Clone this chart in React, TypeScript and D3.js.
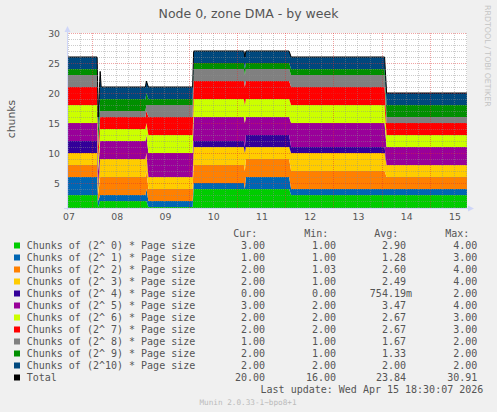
import React from 'react';
import * as d3 from 'd3';

// ---- data ----
const times = [
  '2026-04-07T11:30:00', '2026-04-08T02:30:00', '2026-04-08T03:00:00', '2026-04-08T04:00:00',
  '2026-04-08T04:30:00', '2026-04-09T02:30:00', '2026-04-09T03:00:00', '2026-04-09T04:00:00',
  '2026-04-10T02:00:00', '2026-04-10T02:30:00', '2026-04-11T03:30:00', '2026-04-11T04:00:00',
  '2026-04-11T04:30:00', '2026-04-12T02:00:00', '2026-04-12T03:00:00', '2026-04-14T01:30:00',
  '2026-04-14T02:30:00', '2026-04-15T18:30:07',
];
const order0 = [3, 3, 1, 2, 2, 2, 2, 1, 1, 4, 4, 4, 4, 4, 3, 3, 3, 3];
const order1 = [3, 3, 1, 1, 1, 1, 2, 1, 1, 1, 1, 0, 2, 2, 1, 1, 1, 1];
const order2 = [2, 2, 1, 3, 3, 3, 3, 2, 2, 3, 3, 3, 3, 3, 3, 3, 2, 2];
const order3 = [2, 2, 1, 3, 3, 3, 3, 2, 2, 3, 3, 3, 2, 2, 3, 3, 2, 2];
const order4 = [2, 2, 1, 0, 0, 0, 0, 0, 0, 1, 1, 1, 2, 2, 1, 1, 0, 0];
const order5 = [3, 3, 2, 3, 3, 3, 3, 4, 4, 4, 4, 4, 3, 3, 4, 4, 3, 3];
const order6 = [3, 3, 2, 2, 2, 2, 2, 3, 3, 3, 3, 3, 3, 3, 3, 3, 2, 2];
const order7 = [3, 3, 2, 2, 2, 2, 2, 3, 3, 3, 3, 3, 3, 3, 3, 3, 2, 2];
const order8 = [2, 2, 1, 1, 1, 1, 1, 2, 2, 2, 2, 2, 2, 2, 2, 2, 1, 1];
const order9 = [1, 1, 2, 2, 2, 2, 2, 1, 1, 1, 1, 1, 1, 1, 1, 1, 2, 2];
const order10 = [2, 2, 2, 4.6, 2, 2, 2, 2, 2, 2, 2, 2, 2, 2, 2, 2, 2, 2];

const seriesValues = [order0, order1, order2, order3, order4, order5, order6, order7, order8, order9, order10];
const seriesNames = [
  'Chunks of (2^ 0) * Page size', 'Chunks of (2^ 1) * Page size', 'Chunks of (2^ 2) * Page size',
  'Chunks of (2^ 3) * Page size', 'Chunks of (2^ 4) * Page size', 'Chunks of (2^ 5) * Page size',
  'Chunks of (2^ 6) * Page size', 'Chunks of (2^ 7) * Page size', 'Chunks of (2^ 8) * Page size',
  'Chunks of (2^ 9) * Page size', 'Chunks of (2^10) * Page size', 'Total',
];
const seriesColors = [
  '#00CC00', '#0066B3', '#FF8000', '#FFCC00', '#330099', '#990099',
  '#CCFF00', '#FF0000', '#808080', '#008F00', '#00487D', '#000000',
];
const curVals = [3, 1, 2, 2, 0, 3, 2, 2, 1, 2, 2, 20];
const minVals = [1, 1, 1.03, 1, 0, 2, 2, 2, 1, 1, 2, 16];
const avgVals = [2.9, 1.28, 2.6, 2.49, 0.75419, 3.47, 2.67, 2.67, 1.67, 1.33, 2, 23.84];
const maxVals = [4, 3, 4, 4, 2, 4, 3, 3, 2, 2, 2, 30.91];
const yTicks = [5, 10, 15, 20, 25, 30];

const W = 497, H = 412;
const PL = 67, PR = 467, PT = 33, PB = 208;

function fmt(v: number) {
  if (v !== 0 && Math.abs(v) < 1) return { s: (v * 1000).toFixed(2) + 'm', suf: true };
  return { s: v.toFixed(2), suf: false };
}

export default function App() {
  const dates = times.map((t) => new Date(t));
  const x = d3.scaleTime().domain([dates[0], dates[dates.length - 1]]).range([PL, PR]);
  const y = d3.scaleLinear().domain([30 - (PB - PT) / 6, 30]).range([PB, PT]);

  const keys = seriesValues.map((_, i) => 's' + i);
  const rows = dates.map((d, j) => {
    const r: any = { date: d };
    seriesValues.forEach((arr, i) => (r['s' + i] = arr[j]));
    return r;
  });
  const stacked = d3.stack().keys(keys)(rows);
  const area = d3
    .area<any>()
    .x((d) => x(d.data.date))
    .y0((d) => y(d[0]))
    .y1((d) => y(d[1]));
  const totals = rows.map((r) => keys.reduce((a, k) => a + r[k], 0));
  const line = d3
    .line<number>()
    .x((_, j) => x(dates[j]))
    .y((v) => y(v));

  const [d0, d1] = x.domain();
  const hours6 = d3.timeHour.every(6)!.range(d0, d1);
  const midnights = d3.timeDay.range(d0, d1);
  const noons = d3.timeDay
    .range(d3.timeDay.offset(d0, -1), d1)
    .map((d) => d3.timeHour.offset(d, 12))
    .filter((d) => d >= d0 && d <= d1);
  const dayFmt = d3.timeFormat('%d');

  const gridMinorColor = 'rgba(143,143,143,0.45)';
  const gridMajorColor = 'rgba(222,48,48,0.45)';
  const axisColor = '#CFD6F8';
  const fontColor = '#555555';
  const sans = "'DejaVu Sans', sans-serif";
  const mono = "'DejaVu Sans Mono', monospace";

  const minorY = d3.range(1, 30).filter((v) => v % 5 !== 0 && y(v) <= PB);

  const colEnds = [265, 336, 406, 477.3];
  const headers = ['Cur:', 'Min:', 'Avg:', 'Max:'];
  const headerEnds = [257.3, 328.3, 398.3, 469.3];
  const cols = [curVals, minVals, avgVals, maxVals];

  return (
    <svg
      width={W}
      height={H}
      style={{ position: 'absolute', left: 0, top: 0, display: 'block' }}
      xmlns="http://www.w3.org/2000/svg"
    >
      <rect x={0} y={0} width={W} height={H} fill="#F0F0F0" />
      <rect x={PL} y={PT} width={PR - PL} height={PB - PT} fill="#FFFFFF" />
      <defs>
        <clipPath id="plotclip">
          <rect x={PL} y={PT} width={PR - PL} height={PB - PT} />
        </clipPath>
      </defs>
      <g clipPath="url(#plotclip)">
        {stacked.map((s, i) => (
          <path key={i} d={area(s as any) || ''} fill={seriesColors[i]} />
        ))}
        <path d={line(totals) || ''} fill="none" stroke="#000" strokeWidth={1} />
      </g>
      {/* grid */}
      <g shapeRendering="crispEdges">
        {minorY.map((v) => (
          <line key={'hy' + v} x1={PL} x2={PR} y1={y(v) + 0.5} y2={y(v) + 0.5} stroke={gridMinorColor} strokeDasharray="1,1" />
        ))}
        {hours6
          .filter((d) => d.getHours() !== 0)
          .map((d, i) => (
            <line key={'vx' + i} x1={Math.round(x(d)) + 0.5} x2={Math.round(x(d)) + 0.5} y1={PT} y2={PB} stroke={gridMinorColor} strokeDasharray="1,1" />
          ))}
        {yTicks.map((v) => (
          <line key={'my' + v} x1={PL} x2={PR} y1={y(v) + 0.5} y2={y(v) + 0.5} stroke={gridMajorColor} strokeDasharray="1,1" />
        ))}
        {midnights.map((d, i) => (
          <line key={'mx' + i} x1={Math.round(x(d)) + 0.5} x2={Math.round(x(d)) + 0.5} y1={PT} y2={PB} stroke={gridMajorColor} strokeDasharray="1,1" />
        ))}
      </g>
      {/* axes */}
      <g>
        <line x1={PL + 0.5} x2={PL + 0.5} y1={PB + 2} y2={PT - 3} stroke={axisColor} />
        <path d={`M${PL + 0.5},${PT - 7} L${PL - 2.5},${PT - 1} L${PL + 3.5},${PT - 1} Z`} fill={axisColor} />
        <line x1={PL - 3} x2={PR + 3} y1={PB + 0.5} y2={PB + 0.5} stroke={axisColor} />
        <path d={`M${PR + 7},${PB + 0.5} L${PR + 1},${PB - 2.5} L${PR + 1},${PB + 3.5} Z`} fill={axisColor} />
      </g>
      {/* y tick labels */}
      {yTicks.map((v) => (
        <text key={'yl' + v} x={60} y={y(v) + 3.6} textAnchor="end" fontFamily={sans} fontSize={9.3} fill={fontColor}>
          {v}
        </text>
      ))}
      {/* x tick labels */}
      {noons.map((d, i) => (
        <text key={'xl' + i} x={x(d) + 1} y={220} textAnchor="middle" fontFamily={sans} fontSize={9.3} fill={fontColor}>
          {dayFmt(d)}
        </text>
      ))}
      {/* title */}
      <text x={248.5} y={18.3} textAnchor="middle" fontFamily={sans} fontSize={12.5} fill={fontColor}>
        Node 0, zone DMA - by week
      </text>
      <text transform="translate(15,119) rotate(-90)" textAnchor="middle" fontFamily={sans} fontSize={10.8} fill={fontColor}>
        chunks
      </text>
      <text transform="translate(485,5) rotate(90)" fontFamily={sans} fontSize={7.9} fill="#C4C4C4">
        RRDTOOL / TOBI OETIKER
      </text>
      {/* legend */}
      {headers.map((h, i) => (
        <text key={'h' + i} x={headerEnds[i]} y={236.7} textAnchor="end" fontFamily={mono} fontSize={10} fill={fontColor}>
          {h}
        </text>
      ))}
      {seriesNames.map((name, i) => {
        const by = 249.3 + 12 * i;
        return (
          <g key={'lg' + i}>
            <rect x={14} y={by - 6.8} width={6} height={6} fill={seriesColors[i]} />
            <text x={26.7} y={by} fontFamily={mono} fontSize={10} fill={fontColor} style={{ whiteSpace: 'pre' }}>
              {name}
            </text>
            {cols.map((c, k) => {
              const f = fmt(c[i]);
              return (
                <text key={k} x={colEnds[k] + (f.suf ? 6 : 0)} y={by} textAnchor="end" fontFamily={mono} fontSize={10} fill={fontColor}>
                  {f.s}
                </text>
              );
            })}
          </g>
        );
      })}
      <text x={483.3} y={393.3} textAnchor="end" fontFamily={mono} fontSize={10} fill={fontColor} style={{ whiteSpace: 'pre' }}>
        Last update: Wed Apr 15 18:30:07 2026
      </text>
      <text x={248} y={404.5} textAnchor="middle" fontFamily={mono} fontSize={7.7} fill="#BBBBBB">
        Munin 2.0.33-1~bpo8+1
      </text>
    </svg>
  );
}
